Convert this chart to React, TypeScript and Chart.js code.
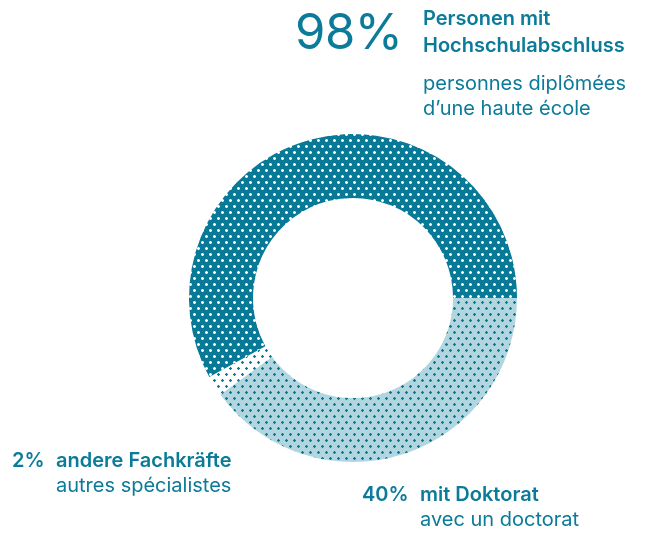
import React, { useEffect, useRef } from "react";
import { Chart, registerables } from "chart.js";

Chart.register(...registerables);

const categories = ["mit Doktorat", "andere Fachkräfte", "ohne Doktorat"];
const values = [40, 2, 58];

const TEXT = "#0b7b99";
const DARK = "#087a98";
const LIGHT = "#b2d6e0";

function makePattern(bg: string, dot: string, halo: number): CanvasPattern | string {
  const c = document.createElement("canvas");
  c.width = 8;
  c.height = 12;
  const ctx = c.getContext("2d");
  if (!ctx) return bg;
  ctx.fillStyle = bg;
  ctx.fillRect(0, 0, 8, 12);
  ctx.fillStyle = dot;
  const pts = [
    [2, 2],
    [6, 8],
  ];
  pts.forEach(([x, y]) => {
    ctx.globalAlpha = halo;
    ctx.fillRect(x - 1, y - 1, 3, 3);
    ctx.globalAlpha = 1;
    ctx.fillRect(x - 1, y, 3, 1);
    ctx.fillRect(x, y - 1, 1, 3);
  });
  const p = ctx.createPattern(c, "repeat");
  return p || bg;
}

export default function App() {
  const ref = useRef<HTMLCanvasElement | null>(null);
  useEffect(() => {
    if (!ref.current) return;
    const colors = [
      makePattern(LIGHT, DARK, 0.2),
      makePattern("#ffffff", DARK, 0.2),
      makePattern(DARK, "#ffffff", 0.45),
    ];
    const chart = new Chart(ref.current, {
      type: "doughnut",
      data: {
        labels: categories,
        datasets: [
          {
            data: values,
            backgroundColor: colors as any,
            borderWidth: 0,
            hoverOffset: 0,
          },
        ],
      },
      options: {
        animation: false,
        responsive: false,
        rotation: 90,
        cutout: "61%",
        layout: { padding: { left: 189, right: 131, top: 134, bottom: 71 } },
        plugins: { legend: { display: false }, tooltip: { enabled: false } },
        events: [],
      },
    });
    return () => chart.destroy();
  }, []);

  const base: React.CSSProperties = {
    position: "absolute",
    fontFamily: "Inter, 'Noto Sans', sans-serif",
    color: TEXT,
    whiteSpace: "nowrap",
    margin: 0,
  };

  return (
    <div style={{ position: "absolute", left: 0, top: 0, width: 648, height: 533, background: "#fff", overflow: "hidden" }}>
      <canvas ref={ref} width={648} height={533} style={{ display: "block" }} />
      <div style={{ ...base, left: 295, top: 2, fontSize: 49, fontWeight: 400, lineHeight: "60px", letterSpacing: "-0.5px" }}>98%</div>
      <div style={{ ...base, left: 423, top: 5, fontSize: 20, fontWeight: 600, lineHeight: "27px" }}>
        Personen mit<br />Hochschulabschluss
      </div>
      <div style={{ ...base, left: 423, top: 71, fontSize: 20, fontWeight: 400, lineHeight: "25px" }}>
        personnes diplômées<br />d’une haute école
      </div>
      <div style={{ ...base, left: 12, top: 448, fontSize: 20, fontWeight: 600, lineHeight: "25px" }}>2%</div>
      <div style={{ ...base, left: 56, top: 448, fontSize: 20, fontWeight: 600, lineHeight: "25px" }}>andere Fachkräfte</div>
      <div style={{ ...base, left: 56, top: 473, fontSize: 20, fontWeight: 400, lineHeight: "25px" }}>autres spécialistes</div>
      <div style={{ ...base, left: 362, top: 482, fontSize: 20, fontWeight: 600, lineHeight: "25px" }}>40%</div>
      <div style={{ ...base, left: 420, top: 482, fontSize: 20, fontWeight: 600, lineHeight: "25px" }}>mit Doktorat</div>
      <div style={{ ...base, left: 420, top: 507, fontSize: 20, fontWeight: 400, lineHeight: "25px" }}>avec un doctorat</div>
    </div>
  );
}
